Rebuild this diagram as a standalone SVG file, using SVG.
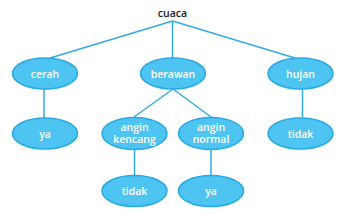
<svg xmlns="http://www.w3.org/2000/svg" width="349" height="216" viewBox="0 0 349 216">
<style>
.n ellipse{fill:#4EC4F2;stroke:#27A9E6;stroke-width:1.5}
.n text{fill:#fff;font-family:"Open Sans","DejaVu Sans",sans-serif;font-weight:600;font-size:10.5px;text-anchor:middle}
#edges line{stroke:#32ABE8;stroke-width:1.5}
.root{fill:#1a1a1a;font-family:"Open Sans","DejaVu Sans",sans-serif;font-weight:600;font-size:10.5px;text-anchor:middle}
</style>
<rect width="349" height="216" fill="#fff"/>
<g id="edges">
<line x1="172.5" y1="21" x2="50" y2="58"/>
<line x1="172.5" y1="21" x2="172.5" y2="58"/>
<line x1="172.5" y1="21" x2="295" y2="58"/>
<line x1="44" y1="89" x2="44" y2="118"/>
<line x1="302.5" y1="89" x2="302.5" y2="118"/>
<line x1="173" y1="89" x2="134" y2="117"/>
<line x1="173" y1="89" x2="211" y2="117"/>
<line x1="134.5" y1="150" x2="134.5" y2="175"/>
<line x1="211" y1="150" x2="211" y2="175"/>
</g>
<g id="cuaca"><text class="root" x="172.5" y="17">cuaca</text></g>
<g id="cerah" class="n"><ellipse cx="45" cy="73.5" rx="32.5" ry="15.5"/><text x="45" y="77.5">cerah</text></g>
<g id="berawan" class="n"><ellipse cx="173" cy="73.5" rx="32.5" ry="15.5"/><text x="173" y="77.5">berawan</text></g>
<g id="hujan" class="n"><ellipse cx="300.5" cy="73.5" rx="32.5" ry="15.5"/><text x="300.5" y="77.5">hujan</text></g>
<g id="ya1" class="n"><ellipse cx="45" cy="133.5" rx="32.5" ry="15.5"/><text x="45" y="137.5">ya</text></g>
<g id="angin-kencang" class="n"><ellipse cx="134.5" cy="133.5" rx="32.5" ry="16"/><text x="134.5" y="131">angin</text><text x="134.5" y="142.5">kencang</text></g>
<g id="angin-normal" class="n"><ellipse cx="211" cy="133.5" rx="32.5" ry="16"/><text x="211" y="131">angin</text><text x="211" y="142.5">normal</text></g>
<g id="tidak1" class="n"><ellipse cx="300.5" cy="133.5" rx="32.5" ry="15.5"/><text x="300.5" y="137.5">tidak</text></g>
<g id="tidak2" class="n"><ellipse cx="134.5" cy="191" rx="32.5" ry="15.5"/><text x="134.5" y="195">tidak</text></g>
<g id="ya2" class="n"><ellipse cx="211" cy="191" rx="32.5" ry="15.5"/><text x="211" y="195">ya</text></g>
</svg>
